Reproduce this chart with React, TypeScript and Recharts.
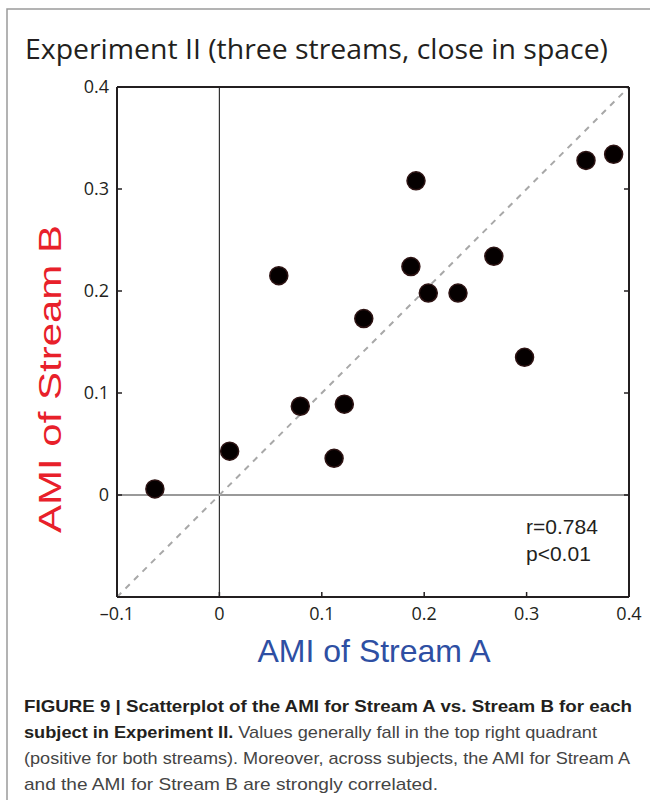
import React from 'react';
import { ScatterChart, Scatter, XAxis, YAxis, ReferenceLine } from 'recharts';

// AMI values per subject
const amiStreamA = [-0.063, 0.010, 0.058, 0.079, 0.112, 0.122, 0.141, 0.187, 0.192, 0.204, 0.233, 0.268, 0.298, 0.358, 0.385];
const amiStreamB = [0.006, 0.043, 0.215, 0.087, 0.036, 0.089, 0.173, 0.224, 0.308, 0.198, 0.198, 0.234, 0.135, 0.328, 0.334];

const xTicks = [-0.1, 0, 0.1, 0.2, 0.3, 0.4];
const yTicks = [0, 0.1, 0.2, 0.3, 0.4];
const axisDomain = [-0.1, 0.4];

const titleText = 'Experiment II (three streams, close in space)';
const xLabelText = 'AMI of Stream A';
const yLabelText = 'AMI of Stream B';
const statsLines = ['r=0.784', 'p<0.01'];

const data = amiStreamA.map((a, i) => ({ a, b: amiStreamB[i] }));

const fmt = (v: number) => (v === 0 ? '0' : v < 0 ? '\u2013' + Math.abs(v).toFixed(1) : v.toFixed(1));

const tickFont = { fontFamily: 'Open Sans', fontSize: 18, fill: '#231f20' };
const axisLine = { stroke: '#231f20', strokeWidth: 2 };
const tickLine = { stroke: '#231f20', strokeWidth: 1.5 };

const Dot = (props: any) => {
  const { cx, cy } = props;
  return <circle cx={cx} cy={cy} r={9} fill="#050000" stroke="#2e1414" strokeWidth={1.5} />;
};

const captionFont = { fontFamily: 'Liberation Sans, Arial, sans-serif', fontSize: 17 };

const App: React.FC = () => {
  return (
    <div style={{ position: 'absolute', left: 0, top: 0, width: 650, height: 800, background: '#fff' }}>
      <ScatterChart width={650} height={800} margin={{ top: 86, right: 20, left: 77, bottom: 173 }}>
        <XAxis
          type="number"
          dataKey="a"
          domain={axisDomain}
          ticks={xTicks}
          tickFormatter={fmt}
          height={30}
          tickSize={-5}
          tickMargin={15}
          axisLine={axisLine}
          tickLine={tickLine}
          tick={tickFont}
          allowDataOverflow
        />
        <XAxis
          xAxisId="top"
          orientation="top"
          type="number"
          domain={axisDomain}
          ticks={xTicks}
          tickFormatter={() => ''}
          height={1}
          tickSize={-5}
          tickMargin={0}
          axisLine={axisLine}
          tickLine={tickLine}
          tick={tickFont}
          allowDataOverflow
        />
        <YAxis
          type="number"
          dataKey="b"
          domain={axisDomain}
          ticks={yTicks}
          tickFormatter={fmt}
          width={40}
          tickSize={-5}
          tickMargin={13}
          axisLine={axisLine}
          tickLine={tickLine}
          tick={tickFont}
          allowDataOverflow
        />
        <YAxis
          yAxisId="right"
          orientation="right"
          type="number"
          domain={axisDomain}
          ticks={yTicks}
          tickFormatter={() => ''}
          width={1}
          tickSize={-5}
          tickMargin={0}
          axisLine={axisLine}
          tickLine={tickLine}
          tick={tickFont}
          allowDataOverflow
        />
        <ReferenceLine x={0} stroke="#333" strokeWidth={1.2} />
        <ReferenceLine y={0} stroke="#777" strokeWidth={1.6} />
        <ReferenceLine
          segment={[{ x: -0.1, y: -0.1 }, { x: 0.4, y: 0.4 }]}
          stroke="#a8a8a8"
          strokeWidth={2}
          strokeDasharray="6 6"
        />
        <Scatter data={data} shape={<Dot />} isAnimationActive={false} />
      </ScatterChart>

      <svg
        width={650}
        height={800}
        style={{ position: 'absolute', left: 0, top: 0, pointerEvents: 'none' }}
      >
        <path d="M7 800 V9 H650" fill="none" stroke="#9a9a9a" strokeWidth={1.5} />
        <text x={25} y={59} fontFamily="Open Sans" fontSize={28} fill="#231f20" textLength={583} lengthAdjust="spacingAndGlyphs">
          {titleText}
        </text>
        <text
          transform="translate(61,379) rotate(-90)"
          textAnchor="middle"
          fontFamily="Liberation Sans, Arial, sans-serif"
          fontSize={31}
          fill="#e8202a"
          textLength={308}
          lengthAdjust="spacingAndGlyphs"
        >
          {yLabelText}
        </text>
        <text x={374} y={662} textAnchor="middle" fontFamily="Liberation Sans, Arial, sans-serif" fontSize={32} fill="#2e4fa3">
          {xLabelText}
        </text>
        {statsLines.map((s, i) => (
          <text key={s} x={526} y={534 + i * 27} fontFamily="Liberation Sans, Arial, sans-serif" fontSize={21} fill="#231f20">
            {s}
          </text>
        ))}

        <text x={24} y={712} {...captionFont} textLength={608} lengthAdjust="spacingAndGlyphs">
          <tspan fontWeight="bold" fill="#231f20">
            FIGURE 9 | Scatterplot of the AMI for Stream A vs. Stream B for each
          </tspan>
        </text>
        <text x={24} y={738} {...captionFont} textLength={573} lengthAdjust="spacingAndGlyphs">
          <tspan fontWeight="bold" fill="#231f20">subject in Experiment II.</tspan>
          <tspan fill="#444"> Values generally fall in the top right quadrant</tspan>
        </text>
        <text x={24} y={764} {...captionFont} fill="#444" textLength={606} lengthAdjust="spacingAndGlyphs">
          (positive for both streams). Moreover, across subjects, the AMI for Stream A
        </text>
        <text x={24} y={790} {...captionFont} fill="#444" textLength={414} lengthAdjust="spacingAndGlyphs">
          and the AMI for Stream B are strongly correlated.
        </text>
      </svg>
    </div>
  );
};

export default App;
